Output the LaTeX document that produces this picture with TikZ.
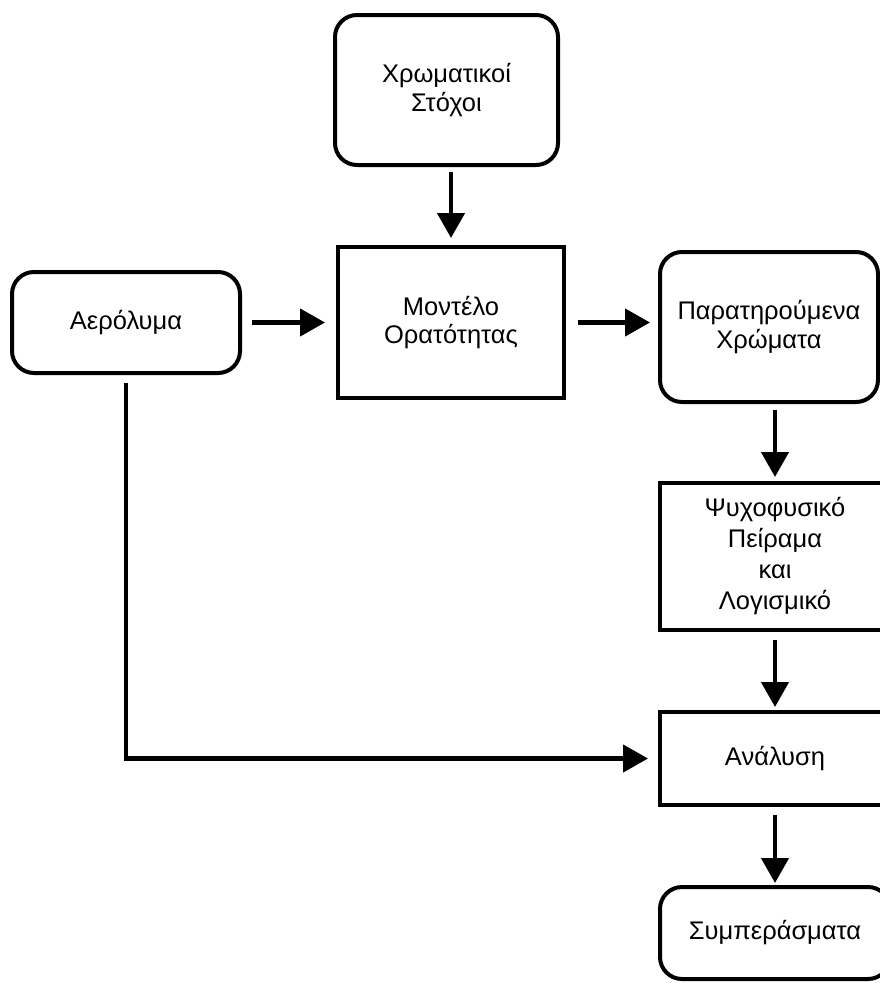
\documentclass[tikz,border=0pt]{standalone}
\usepackage{fontspec}
\setmainfont{Liberation Sans}
\usetikzlibrary{arrows.meta}
\begin{document}
\begin{tikzpicture}[x=1pt,y=-1pt,
  box/.style={draw, line width=4pt, outer sep=0pt, inner sep=0pt, align=center,
    font=\fontsize{25.5}{28.5}\selectfont},
  rbox/.style={box, rounded corners=22pt},
  arr/.style={line width=4.5pt, -{Triangle[length=25pt,width=27pt]}},
]
\useasboundingbox (0,0) rectangle (880,983);
\clip (0,0) rectangle (880,983);

% boxes
\node[rbox, minimum width=223pt, minimum height=150pt] (goals) at (446.5,90) {Χρωματικοί\\Στόχοι};
\node[box, minimum width=226pt, minimum height=151pt] (model) at (451,322.5) {Μοντέλο\\Ορατότητας};
\node[rbox, minimum width=228pt, minimum height=101pt] (aero) at (126,322.5) {Αερόλυμα};
\node[rbox, minimum width=218pt, minimum height=150pt] (obs) at (769,327) {Παρατηρούμενα\\Χρώματα};
\node[box, minimum width=230pt, minimum height=147pt, font=\fontsize{25.5}{31}\selectfont] (psy) at (775,556.5) {Ψυχοφυσικό\\Πείραμα\\και\\Λογισμικό};
\node[box, minimum width=230pt, minimum height=93pt] (analysis) at (775,758.5) {Ανάλυση};
\node[rbox, minimum width=230pt, minimum height=92pt] (concl) at (775,933) {Συμπεράσματα};

% connectors
\draw[arr, shorten <=7pt, shorten >=9pt] (goals.south -| model.north) -- (model.north);
\draw[arr, shorten <=12pt, shorten >=13pt] (aero.east) -- (model.west);
\draw[arr, shorten <=14pt, shorten >=10pt] (model.east) -- (model.east -| obs.west);
\draw[arr, shorten <=8pt, shorten >=6pt] (obs.south -| psy.north) -- (psy.north);
\draw[arr, shorten <=10pt, shorten >=5pt] (psy.south) -- (analysis.north);
\draw[arr, shorten <=10pt, shorten >=4pt] (analysis.south) -- (concl.north);
\draw[arr, shorten <=10pt, shorten >=12pt] (aero.south) |- (analysis.west);
\end{tikzpicture}
\end{document}
